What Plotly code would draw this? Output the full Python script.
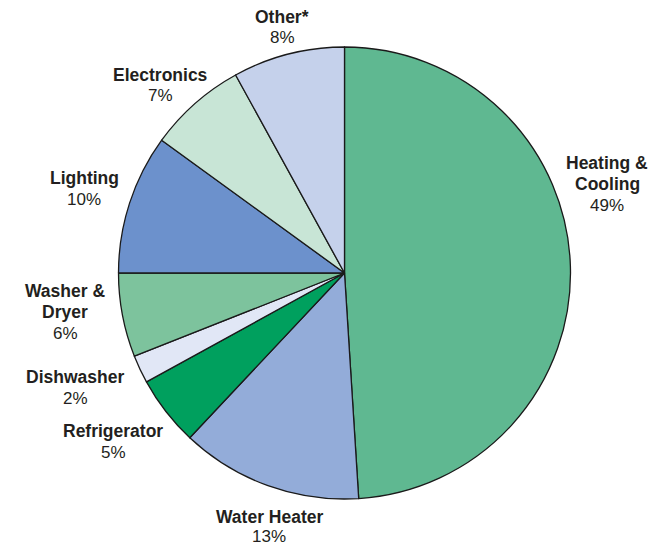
import plotly.graph_objects as go

categories = ["Heating & Cooling", "Water Heater", "Refrigerator", "Dishwasher",
              "Washer & Dryer", "Lighting", "Electronics", "Other*"]
name_lines = [["Heating &", "Cooling"], ["Water Heater"], ["Refrigerator"], ["Dishwasher"],
              ["Washer &", "Dryer"], ["Lighting"], ["Electronics"], ["Other*"]]
shares = [49, 13, 5, 2, 6, 10, 7, 8]
colors = ["#5fb891", "#93acd9", "#00a05e", "#e1e7f6",
          "#7dc39d", "#6c91cc", "#c8e5d6", "#c5d1eb"]

# page body adds an 8px margin; figure is sized to fit the window
OFF = 8
W, H = 665 - OFF, 547 - OFF
# label anchor: (centre x, centre y of first line) in screenshot pixels (layout only)
label_px = [(607, 163), (269, 517), (113, 431), (75, 377),
            (65, 291), (84, 178), (160, 75), (282, 17)]
LINE_GAP = 21

fig = go.Figure(go.Pie(
    labels=categories, values=shares, sort=False, direction="clockwise",
    rotation=0, marker=dict(colors=colors, line=dict(color="#1a1a1a", width=1.3)),
    textinfo="none", hoverinfo="label+percent", showlegend=False,
    domain=dict(x=[(117 - OFF) / W, (572 - OFF) / W],
                y=[(H - (499 - OFF)) / H, (H - (47 - OFF)) / H]),
))

FONT = "Liberation Sans, Arial, Helvetica, sans-serif"


def put(text, px, py, bold):
    fig.add_annotation(
        x=(px - OFF) / W, y=1 - (py - OFF) / H, xref="paper", yref="paper",
        text=f"<b>{text}</b>" if bold else text, showarrow=False,
        xanchor="center", yanchor="middle", align="center",
        font=dict(family=FONT, size=17.5 if bold else 17, color="#231f20"),
    )


for lines, val, (px, py) in zip(name_lines, shares, label_px):
    y = py
    for ln in lines:
        put(ln, px, y, True)
        y += LINE_GAP
    put(f"{val}%", px, y - (2 if y > 530 else 0), False)

fig.update_layout(width=W, height=H, margin=dict(l=0, r=0, t=0, b=0),
                  paper_bgcolor="white", plot_bgcolor="white")
fig.write_html("out.html")
